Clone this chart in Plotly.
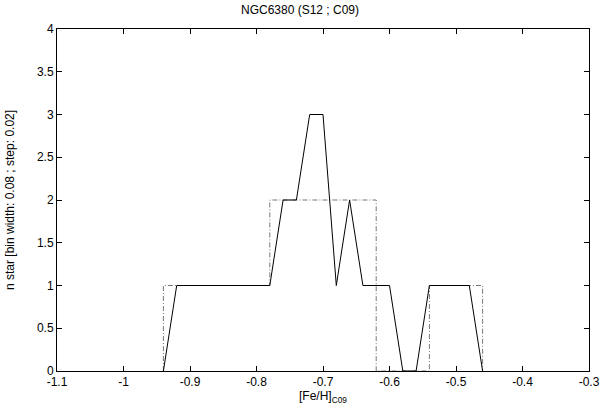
import plotly.graph_objects as go

# sliding histogram (bin width 0.08, step 0.02)
feh = [-0.94, -0.92, -0.90, -0.88, -0.86, -0.84, -0.82, -0.80, -0.78, -0.76,
       -0.74, -0.72, -0.70, -0.68, -0.66, -0.64, -0.62, -0.60, -0.58, -0.56,
       -0.54, -0.52, -0.50, -0.48, -0.46]
nstar = [0, 1, 1, 1, 1, 1, 1, 1, 1, 2,
         2, 3, 3, 1, 2, 1, 1, 1, 0, 0,
         1, 1, 1, 1, 0]

# plain histogram (bin edges and counts)
bin_edges = [-0.94, -0.86, -0.78, -0.70, -0.62, -0.54, -0.46]
bin_counts = [1, 1, 2, 2, 0, 1]

x_ticks = [-1.1, -1.0, -0.9, -0.8, -0.7, -0.6, -0.5, -0.4, -0.3]
x_labels = ["-1.1", "-1", "-0.9", "-0.8", "-0.7", "-0.6", "-0.5", "-0.4", "-0.3"]
y_ticks = [0, 0.5, 1, 1.5, 2, 2.5, 3, 3.5, 4]

fig = go.Figure()

# step outline of the histogram, dash-dot grey
hx = [bin_edges[0]] + bin_edges
hy = [0] + bin_counts + [0]
fig.add_trace(go.Scatter(
    x=hx, y=hy, mode="lines", line_shape="hv",
    line=dict(color="rgb(120,120,120)", width=1, dash="5px,2px,1px,2px"),
    showlegend=False))

fig.add_trace(go.Scatter(
    x=feh, y=nstar, mode="lines",
    line=dict(color="black", width=1),
    showlegend=False))

axis_style = dict(
    showline=True, linecolor="black", linewidth=1, mirror="ticks",
    ticks="inside", ticklen=5, tickcolor="black", showgrid=False,
    zeroline=False, automargin=False, tickfont=dict(size=12, color="black"))

fig.update_xaxes(range=[-1.1, -0.3], tickvals=x_ticks, ticktext=x_labels,
                 title=dict(text="[Fe/H]<sub>C09</sub>", standoff=2,
                            font=dict(size=12, color="black")),
                 **axis_style)
fig.update_yaxes(range=[0, 4], tickvals=y_ticks,
                 title=dict(text="n star [bin width: 0.08 ; step: 0.02]", standoff=19,
                            font=dict(size=12, color="black")),
                 **axis_style)

fig.update_layout(
    width=600, height=409,
    margin=dict(l=57, r=11, t=29, b=38),
    plot_bgcolor="white", paper_bgcolor="white",
    font=dict(family="Liberation Sans, Arial, sans-serif", size=12, color="black"),
    title=dict(text="NGC6380 (S12 ; C09)", x=0.5, xanchor="center",
               y=0.975, yanchor="middle", font=dict(size=12, color="black")))

# drop the default page margin so the figure sits at the window corner
fig.write_html("out.html", config={"displayModeBar": False},
               post_script="document.body.style.margin = '0';")
